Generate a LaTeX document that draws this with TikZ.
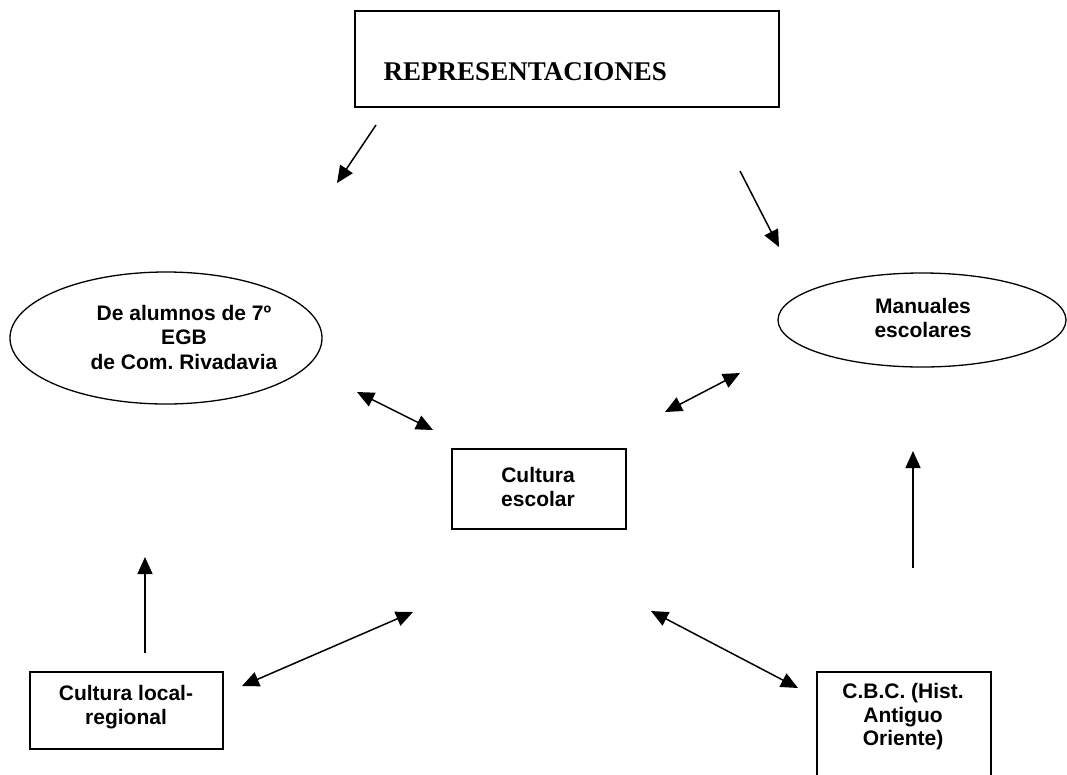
\documentclass[tikz,border=0pt]{standalone}
\usepackage{fontspec}
\setmainfont{Liberation Serif}
\newfontfamily\sansb{Liberation Sans}
\usetikzlibrary{arrows.meta,shapes.geometric}
\frenchspacing
\tikzset{
  box/.style={draw, line width=1.5pt, inner sep=0pt},
  oval/.style={draw, ellipse, line width=1.3pt, inner sep=0pt},
  txt/.style={font=\sansb\bfseries\fontsize{21}{24.5}\selectfont, align=center, inner sep=0pt},
  tip/.tip={Triangle[length=17pt,width=15pt]},
  arr/.style={-tip, line width=1.5pt},
  darr/.style={tip-tip, line width=1.5pt}
}
\begin{document}
\begin{tikzpicture}[x=1pt,y=-1pt]
\useasboundingbox (0,0) rectangle (1067,774);
% top box
\node[box, minimum width=424pt, minimum height=96pt] (rep) at (567,59) {};
\node[anchor=base east, inner sep=0pt, font=\bfseries\fontsize{27}{30}\selectfont] (reptxt) at (667,80) {REPRESENTACIONES};
% ellipses
\node[oval, minimum width=312pt, minimum height=132pt] (alum) at (166,338) {};
\node[txt] (alumtxt) at (184,337) {De alumnos de 7º\\EGB\\de Com. Rivadavia\hspace{28pt}};
\node[oval, minimum width=288pt, minimum height=94pt] (man) at (922,320) {};
\node[txt] (mantxt) at (923,318) {Manuales\\escolares};
% boxes
\node[box, minimum width=174pt, minimum height=80pt] (esc) at (539,489) {};
\node[txt] (esctxt) at (538,487) {Cultura\\escolar};
\node[box, minimum width=193pt, minimum height=77pt] (loc) at (126.5,710.5) {};
\node[txt] (loctxt) at (126,707) {Cultura local-\\regional};
\node[inner sep=0pt, minimum width=174pt, minimum height=104pt] (cbc) at (904,724) {};
\draw[line width=1.5pt] (cbc.south west) -- (cbc.north west) -- (cbc.north east) -- (cbc.south east);
\node[txt, font=\sansb\bfseries\fontsize{21}{23.5}\selectfont] (cbctxt) at (903,717) {C.B.C. (Hist.\\Antiguo\\Oriente)};
% arrow end points
\coordinate (a1s) at (376,125); \coordinate (a1e) at (337,183);
\coordinate (a2s) at (740,171); \coordinate (a2e) at (779,247);
\coordinate (a3s) at (357,392); \coordinate (a3e) at (433,430);
\coordinate (a4s) at (740,373); \coordinate (a4e) at (665,412);
\coordinate (a5s) at (145,653); \coordinate (a5e) at (145,557);
\coordinate (a6s) at (242,686); \coordinate (a6e) at (413,612);
\coordinate (a7s) at (651,611); \coordinate (a7e) at (798,688);
\coordinate (a8s) at (913,568); \coordinate (a8e) at (913,451);
\draw[arr] (a1s) -- (a1e);
\draw[arr] (a2s) -- (a2e);
\draw[darr] (a3s) -- (a3e);
\draw[darr] (a4s) -- (a4e);
\draw[arr] (a5s) -- (a5e);
\draw[darr] (a6s) -- (a6e);
\draw[darr] (a7s) -- (a7e);
\draw[arr] (a8s) -- (a8e);
\end{tikzpicture}
\end{document}
